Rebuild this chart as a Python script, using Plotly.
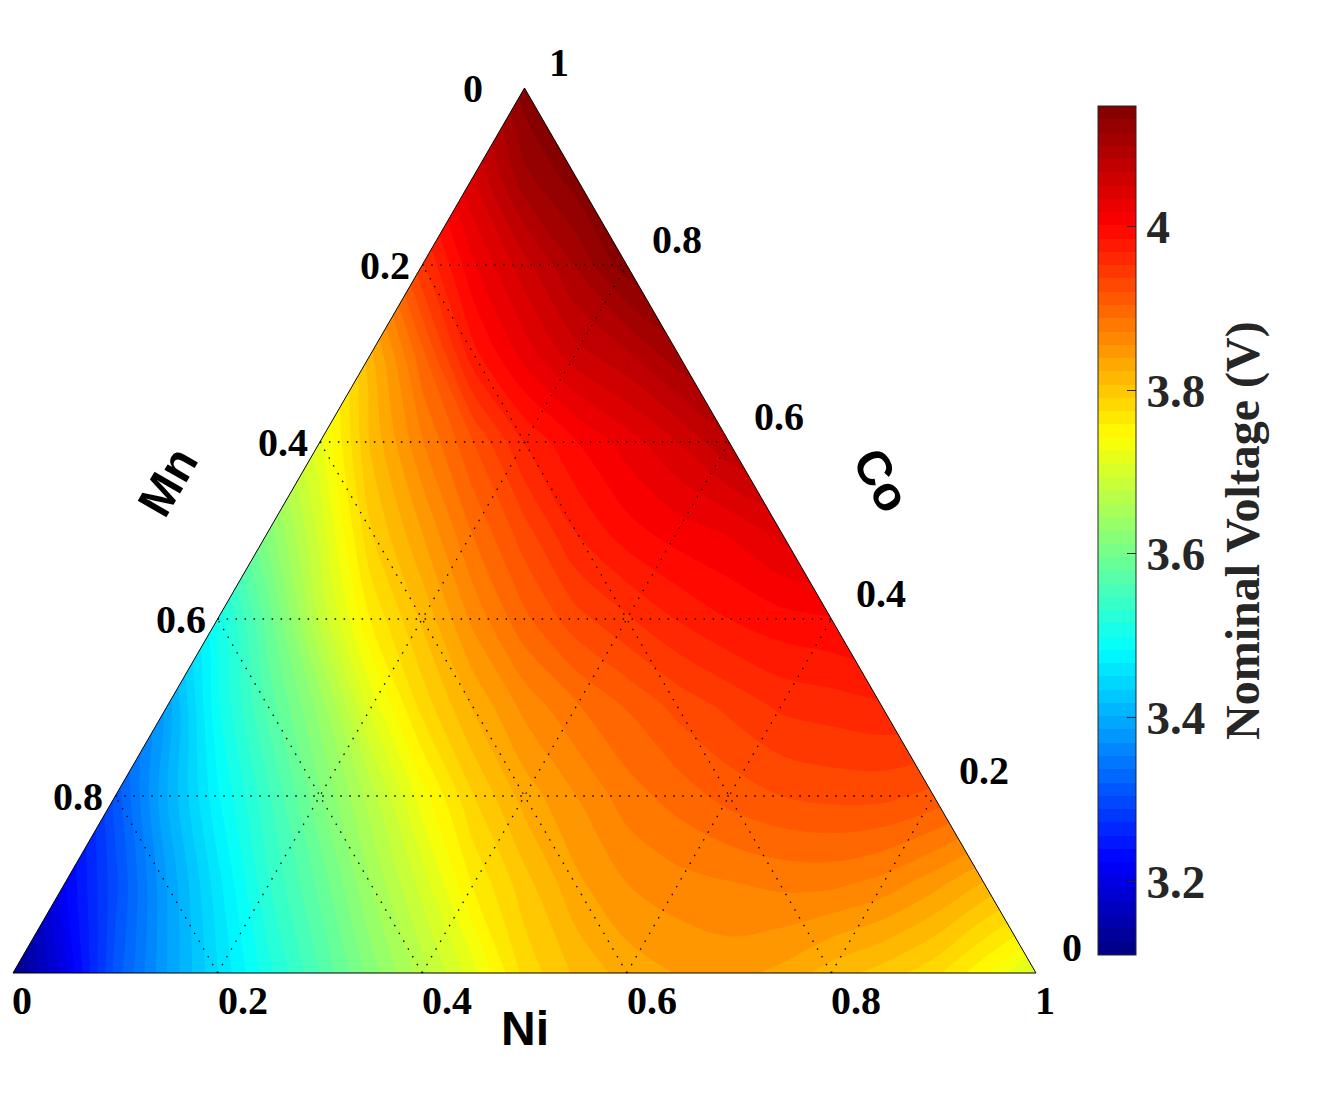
import plotly.graph_objects as go

# composition grid: x = Ni + Co/2, y = Co (cells outside the triangle continue the nearby colours)
grid_x = [0, .05, .1, .15, .2, .25, .3, .35, .4, .45, .5, .55, .6, .65, .7, .75, .8, .85, .9, .95, 1]
grid_y = [0, .1, .2, .3, .4, .5, .6, .7, .8, .9, 1]

voltage_00 = [3.12, 3.20, 3.31, 3.385, 3.45, 3.51, 3.564, 3.62, 3.67, 3.72, 3.78, 3.81, 3.83, 3.84, 3.845, 3.835, 3.815, 3.80, 3.78, 3.745, 3.70]
voltage_01 = [3.12, 3.22, 3.30, 3.385, 3.46, 3.53, 3.585, 3.645, 3.70, 3.76, 3.80, 3.835, 3.855, 3.865, 3.87, 3.875, 3.875, 3.865, 3.845, 3.82, 3.80]
voltage_02 = [3.13, 3.22, 3.31, 3.40, 3.48, 3.545, 3.61, 3.67, 3.735, 3.79, 3.83, 3.855, 3.88, 3.895, 3.91, 3.92, 3.925, 3.925, 3.915, 3.90, 3.89]
voltage_03 = [3.15, 3.24, 3.32, 3.39, 3.495, 3.57, 3.635, 3.715, 3.78, 3.825, 3.86, 3.885, 3.905, 3.925, 3.94, 3.955, 3.96, 3.965, 3.965, 3.96, 3.96]
voltage_04 = [3.20, 3.27, 3.35, 3.42, 3.50, 3.59, 3.68, 3.76, 3.81, 3.86, 3.90, 3.93, 3.95, 3.97, 3.985, 3.995, 4.00, 4.01, 4.01, 4.01, 4.01]
voltage_05 = [3.30, 3.36, 3.42, 3.48, 3.55, 3.62, 3.70, 3.79, 3.84, 3.89, 3.93, 3.97, 3.995, 4.01, 4.02, 4.04, 4.05, 4.05, 4.05, 4.05, 4.05]
voltage_06 = [3.40, 3.45, 3.50, 3.55, 3.60, 3.65, 3.72, 3.81, 3.87, 3.92, 3.97, 4.00, 4.025, 4.05, 4.08, 4.09, 4.09, 4.09, 4.09, 4.09, 4.09]
voltage_07 = [3.50, 3.52, 3.55, 3.58, 3.62, 3.66, 3.73, 3.82, 3.90, 3.98, 4.025, 4.06, 4.08, 4.11, 4.12, 4.12, 4.12, 4.12, 4.12, 4.12, 4.12]
voltage_08 = [3.60, 3.62, 3.65, 3.68, 3.72, 3.76, 3.80, 3.87, 3.95, 4.015, 4.06, 4.10, 4.14, 4.145, 4.145, 4.145, 4.145, 4.145, 4.145, 4.145, 4.145]
voltage_09 = [3.70, 3.72, 3.75, 3.78, 3.82, 3.86, 3.90, 3.95, 3.99, 4.05, 4.11, 4.14, 4.145, 4.145, 4.145, 4.145, 4.145, 4.145, 4.145, 4.145, 4.145]
voltage_10 = [3.80, 3.82, 3.85, 3.88, 3.90, 3.93, 3.96, 4.00, 4.03, 4.07, 4.14, 4.145, 4.145, 4.145, 4.145, 4.145, 4.145, 4.145, 4.145, 4.145, 4.145]

voltage = [voltage_00, voltage_01, voltage_02, voltage_03, voltage_04, voltage_05,
           voltage_06, voltage_07, voltage_08, voltage_09, voltage_10]

inner_ticks = [0.2, 0.4, 0.6, 0.8]
cbar_ticks = [3.2, 3.4, 3.6, 3.8, 4]
v_min = 3.11
v_max = 4.147

jet = [[0, "#000080"], [0.11, "#0000ff"], [0.36, "#00ffff"], [0.61, "#ffff00"], [0.86, "#ff0000"], [1, "#800000"]]

SERIF = "Liberation Serif"
SANS = "Liberation Sans"

fig = go.Figure()

fig.add_trace(go.Contour(
    x=grid_x,
    y=grid_y,
    z=voltage,
    zmin=v_min,
    zmax=v_max,
    colorscale=jet,
    autocontour=False,
    contours=dict(start=v_min, end=v_max, size=(v_max - v_min) / 64, coloring="fill", showlines=False),
    line=dict(width=0),
    hoverinfo="skip",
    colorbar=dict(
        x=1098 / 1320,
        xanchor="left",
        xpad=0,
        y=145 / 1100,
        yanchor="bottom",
        ypad=0,
        thickness=38,
        thicknessmode="pixels",
        len=849,
        lenmode="pixels",
        outlinecolor="#262626",
        outlinewidth=1,
        tickmode="array",
        tickvals=cbar_ticks,
        ticktext=[str(t) for t in cbar_ticks],
        ticks="inside",
        ticklen=9,
        tickcolor="#262626",
        tickwidth=1,
        tickfont=dict(family=SERIF, size=47, color="#262626", weight=700),
    ),
))

# white corners hide the part of the contour outside the triangle
fig.add_trace(go.Scatter(
    x=[0, 0.5, 0, 0, None, 1, 0.5, 1, 1],
    y=[0, 1, 1, 0, None, 0, 1, 1, 0],
    mode="lines",
    fill="toself",
    fillcolor="white",
    line=dict(width=0),
    hoverinfo="skip",
    showlegend=False,
))

grid_xs, grid_ys = [], []
for t in inner_ticks:
    grid_xs += [t / 2, 1 - t / 2, None, t, t / 2, None, t, t + (1 - t) / 2, None]
    grid_ys += [t, t, None, 0, t, None, 0, 1 - t, None]

fig.add_trace(go.Scatter(
    x=grid_xs,
    y=grid_ys,
    mode="lines",
    line=dict(color="black", width=1.3, dash="1.5px,7.5px"),
    hoverinfo="skip",
    showlegend=False,
))

fig.add_trace(go.Scatter(
    x=[0, 1, 0.5, 0],
    y=[0, 0, 1, 0],
    mode="lines",
    line=dict(color="black", width=1),
    hoverinfo="skip",
    showlegend=False,
))


def tick_label(text, x, y, dx, dy):
    fig.add_annotation(x=x, y=y, text=text, showarrow=False, xshift=dx, yshift=dy,
                       font=dict(family=SERIF, size=40, color="black", weight=700))


# Ni along the bottom
for t in inner_ticks:
    tick_label(str(t), t, 0, 25, -27)
tick_label("0", 0, 0, 9, -27)
tick_label("1", 1, 0, 9, -27)

# Mn down the left edge
for t in inner_ticks:
    tick_label(str(t), (1 - t) / 2, 1 - t, -37, 0)
tick_label("0", 0.5, 1, -52, 0)

# Co up the right edge
for t in inner_ticks:
    tick_label(str(t), 1 - t / 2, t, 50, 26)
tick_label("0", 1, 0, 36, 26)
tick_label("1", 0.5, 1, 34, 26)

for text, x, y, angle in [("Ni", (525 - 13) / 1023, (973 - 1028) / 885, 0),
                          ("Mn", (167 - 13) / 1023, (973 - 482) / 885, -60),
                          ("Co", (882 - 13) / 1023, (973 - 480) / 885, 60)]:
    fig.add_annotation(x=x, y=y, text=text, showarrow=False, textangle=angle,
                       font=dict(family=SANS, size=48, color="black", weight=700))

# colorbar title placed by hand, the colorbar's own one sits too close to the labels
fig.add_annotation(x=(1243 - 13) / 1023, y=(973 - 531) / 885, text="Nominal Voltage (V)",
                   showarrow=False, textangle=-90,
                   font=dict(family=SERIF, size=48, color="#262626", weight=700))

fig.update_layout(
    width=1320,
    height=1100,
    margin=dict(l=0, r=0, t=0, b=0),
    paper_bgcolor="white",
    plot_bgcolor="white",
    showlegend=False,
    xaxis=dict(visible=False, range=[-13 / 1023, 1307 / 1023], fixedrange=True),
    yaxis=dict(visible=False, range=[-127 / 885, 973 / 885], fixedrange=True),
)

fig.write_html("out.html", config=dict(displayModeBar=False),
               post_script="document.body.style.margin='0';")
